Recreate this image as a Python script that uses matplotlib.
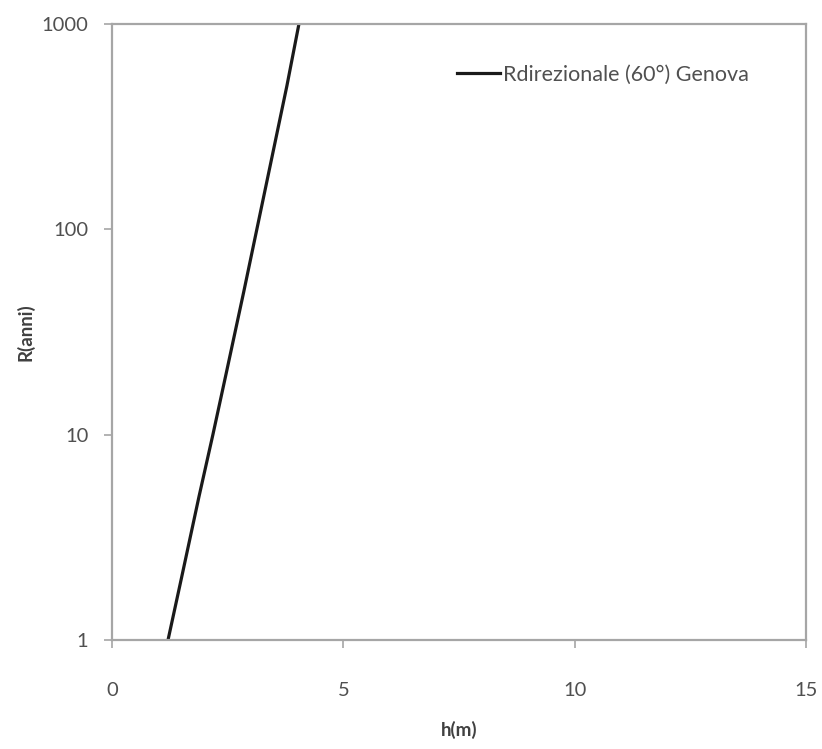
import numpy as np
import matplotlib
matplotlib.use('Agg')
import matplotlib.pyplot as plt
from matplotlib.ticker import FixedLocator, FixedFormatter, NullLocator

# data: return period R (anni) vs wave height h (m)
R_anni = [1, 2, 5, 10, 20, 50, 100, 200, 500, 1000]
h_m = [1.21, 1.50, 1.88, 2.18, 2.47, 2.85, 3.13, 3.41, 3.78, 4.04]
serie_label = 'Rdirezionale (60°) Genova'

x_ticks = [0, 5, 10, 15]
y_ticks = [1, 10, 100, 1000]
y_tick_labels = ['1', '10', '100', '1000']

plt.rcParams['font.family'] = ['Lato', 'DejaVu Sans']

fig = plt.figure(figsize=(8.22, 7.49), dpi=100)
ax = fig.add_axes([0.1363, 0.1455, 0.8442, 0.8225])

ax.plot(h_m, R_anni, color='#1a1a1a', lw=2.3, label=serie_label)

ax.set_yscale('log')
ax.set_xlim(0, 15)
ax.set_ylim(1, 1000)
ax.set_xticks(x_ticks)
ax.yaxis.set_major_locator(FixedLocator(y_ticks))
ax.yaxis.set_major_formatter(FixedFormatter(y_tick_labels))
ax.yaxis.set_minor_locator(NullLocator())

for s in ax.spines.values():
    s.set_color('#a6a6a6')
    s.set_linewidth(1.6)

ax.tick_params(axis='x', length=6, width=1.2, color='#a6a6a6', pad=24,
               labelsize=14.5, labelcolor='#505050')
ax.tick_params(axis='y', length=6, width=1.2, color='#a6a6a6', pad=11,
               labelsize=14.5, labelcolor='#505050')

ax.set_xlabel('h(m)', fontsize=13.5, fontweight='bold', color='#404040', labelpad=16)
ax.set_ylabel('R(anni)', fontsize=13.5, fontweight='bold', color='#404040', labelpad=5)

leg = ax.legend(loc='upper right', bbox_to_anchor=(0.945, 0.965), frameon=False,
                fontsize=15.5, handlelength=2.0, handletextpad=0.1)
for t in leg.get_texts():
    t.set_color('#505050')

fig.savefig('out.png', dpi=100)
